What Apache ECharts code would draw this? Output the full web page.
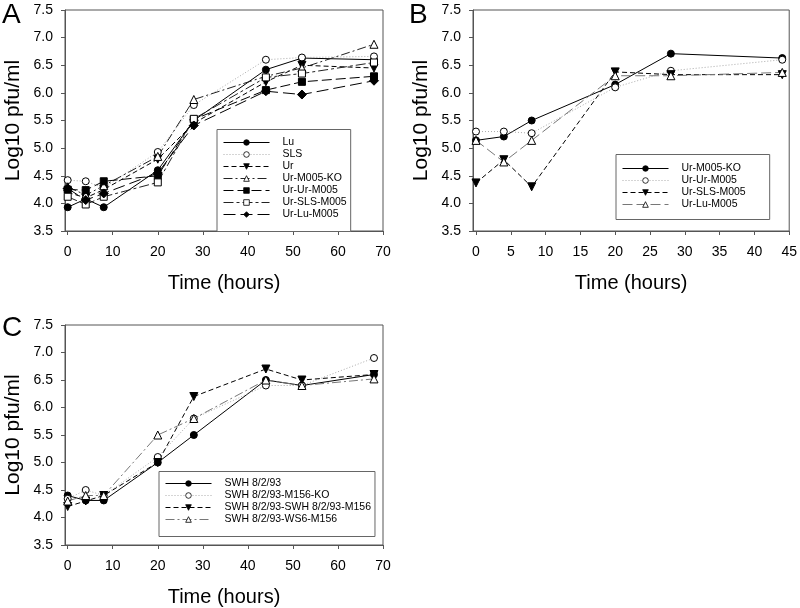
<!DOCTYPE html>
<html><head><meta charset="utf-8">
<script src="https://cdn.jsdelivr.net/npm/echarts@6/dist/echarts.min.js"></script>
<style>html,body{margin:0;padding:0;background:#fff}#c{width:800px;height:608px}</style>
</head><body><div id="c"></div>
<script>
// ---- data ----
const hoursAC = [0, 4, 8, 20, 28, 44, 52, 68];
const hoursB = [0, 4, 8, 20, 28, 44];
const xTicksAC = [0, 10, 20, 30, 40, 50, 60, 70];
const xTicksB = [0, 5, 10, 15, 20, 25, 30, 35, 40, 45];

// Panel A
const aLu        = [3.93, 4.08, 3.93, 4.60, 5.50, 6.42, 6.63, 6.60];
const aSLS       = [4.42, 4.40, 4.28, 4.93, 5.78, 6.60, 6.64, 6.66];
const aUr        = [4.20, 4.10, 4.25, 4.80, 5.45, 6.20, 6.50, 6.45];
const aUrKO      = [4.30, 4.15, 4.32, 4.85, 5.88, 6.30, 6.45, 6.88];
const aUrUr      = [4.25, 4.24, 4.40, 4.50, 5.52, 6.05, 6.20, 6.30];
const aUrSLS     = [4.12, 3.98, 4.12, 4.38, 5.53, 6.28, 6.35, 6.55];
const aUrLu      = [4.27, 4.06, 4.18, 4.55, 5.41, 6.03, 5.97, 6.22];

// Panel B
const bUrKO      = [5.14, 5.21, 5.50, 6.15, 6.71, 6.63];
const bUrUr      = [5.30, 5.30, 5.27, 6.10, 6.40, 6.60];
const bUrSLS     = [4.37, 4.79, 4.30, 6.38, 6.33, 6.33];
const bUrLu      = [5.14, 4.75, 5.14, 6.31, 6.31, 6.37];

// Panel C
const cSWH       = [4.40, 4.31, 4.31, 5.00, 5.50, 6.50, 6.40, 6.60];
const cSWHKO     = [4.34, 4.50, 4.40, 5.10, 5.80, 6.40, 6.40, 6.90];
const cSWHSWH    = [4.20, 4.30, 4.40, 5.00, 6.20, 6.70, 6.50, 6.60];
const cSWHWS6    = [4.30, 4.40, 4.40, 5.50, 5.80, 6.50, 6.40, 6.52];

// ---- styles ----
const FONT = '"Liberation Sans", Arial, sans-serif';
const AX = '#555';
function zip(xs, ys){ return xs.map((x,i)=>[x, ys[i]]); }
const ST = {
  solidFilledCircle: {symbol:'circle', size:7, fill:'#000', line:'#000', type:'solid'},
  dottedOpenCircle:  {symbol:'circle', size:7, fill:'#fff', line:'#aaa', type:[1,2]},
  dashFilledTri:     {symbol:'triangle', rotate:180, size:8, fill:'#000', line:'#000', type:[5,3]},
  dashDotOpenTri:    {symbol:'triangle', size:8, fill:'#fff', line:'#222', type:[9,3,2,3]},
  longFilledSquare:  {symbol:'rect', size:7, fill:'#000', line:'#000', type:[10,4]},
  longOpenSquare:    {symbol:'rect', size:7, fill:'#fff', line:'#222', type:[10,3,3,3]},
  longFilledDiamond: {symbol:'diamond', size:9, fill:'#000', line:'#000', type:[12,5]},
  longOpenTriGray:   {symbol:'triangle', size:8, fill:'#fff', line:'#777', type:[10,4]},
  dashDotOpenTriGray:{symbol:'triangle', size:8, fill:'#fff', line:'#777', type:[9,3,2,3]}
};
function mk(name, idx, xs, ys, s){
  return {
    name: name, type:'line', xAxisIndex: idx, yAxisIndex: idx,
    data: zip(xs, ys), symbol: s.symbol, symbolSize: s.size, symbolRotate: s.rotate || 0,
    showSymbol: true, animation:false, z: 3,
    lineStyle: {color: s.line, width: 1, type: s.type},
    itemStyle: {color: s.fill, borderColor: '#000', borderWidth: 1},
    emphasis: {disabled: true}
  };
}
const series = [
  mk('A:Lu', 0, hoursAC, aLu, ST.solidFilledCircle),
  mk('A:SLS', 0, hoursAC, aSLS, ST.dottedOpenCircle),
  mk('A:Ur', 0, hoursAC, aUr, ST.dashFilledTri),
  mk('A:Ur-M005-KO', 0, hoursAC, aUrKO, ST.dashDotOpenTri),
  mk('A:Ur-Ur-M005', 0, hoursAC, aUrUr, ST.longFilledSquare),
  mk('A:Ur-SLS-M005', 0, hoursAC, aUrSLS, ST.longOpenSquare),
  mk('A:Ur-Lu-M005', 0, hoursAC, aUrLu, ST.longFilledDiamond),
  mk('B:Ur-M005-KO', 1, hoursB, bUrKO, ST.solidFilledCircle),
  mk('B:Ur-Ur-M005', 1, hoursB, bUrUr, ST.dottedOpenCircle),
  mk('B:Ur-SLS-M005', 1, hoursB, bUrSLS, ST.dashFilledTri),
  mk('B:Ur-Lu-M005', 1, hoursB, bUrLu, ST.longOpenTriGray),
  mk('C:SWH 8/2/93', 2, hoursAC, cSWH, ST.solidFilledCircle),
  mk('C:SWH 8/2/93-M156-KO', 2, hoursAC, cSWHKO, ST.dottedOpenCircle),
  mk('C:SWH 8/2/93-SWH 8/2/93-M156', 2, hoursAC, cSWHSWH, ST.dashFilledTri),
  mk('C:SWH 8/2/93-WS6-M156', 2, hoursAC, cSWHWS6, ST.dashDotOpenTriGray)
];

const grids = [
  {left: 65, top: 10, width: 318, height: 221},
  {left: 473, top: 10, width: 319, height: 221},
  {left: 65, top: 325, width: 318, height: 222}
];
function xAx(idx, min, max, ticks){
  return {
    type:'value', gridIndex: idx, min: min, max: max,
    name: 'Time (hours)', nameLocation:'middle', nameGap: 42,
    nameTextStyle: {fontFamily: FONT, fontSize: 20, color:'#000'},
    axisLine: {show:true, onZero:false, lineStyle:{color: AX, width:1}},
    axisTick: {show:true, inside:false, length:4, customValues: ticks, lineStyle:{color: AX}},
    axisLabel: {customValues: ticks, margin: 14, fontFamily: FONT, fontSize: 14, color:'#000'},
    splitLine: {show:false}
  };
}
function yAx(idx){
  return {
    type:'value', gridIndex: idx, min: 3.5, max: 7.5, interval: 0.5,
    name: 'Log10 pfu/ml', nameLocation:'middle', nameGap: 41, nameRotate: 90,
    nameTextStyle: {fontFamily: FONT, fontSize: 21, color:'#000'},
    axisLine: {show:true, onZero:false, lineStyle:{color: AX, width:1}},
    axisTick: {show:true, inside:false, length:4, lineStyle:{color: AX}},
    axisLabel: {margin: 12, fontFamily: FONT, fontSize: 14, color:'#000', formatter: v => v.toFixed(1)},
    splitLine: {show:false}
  };
}
function legend(names, left, top, pad){
  return {
    data: names, orient:'vertical', left: left, top: top, padding: pad,
    itemWidth: 46, itemHeight: 7, itemGap: 0,
    backgroundColor:'#fff', borderColor:'#666', borderWidth:1,
    lineStyle: {width: 1},
    itemStyle: {borderWidth: 0.8},
    formatter: n => n.replace(/^[ABC]:/, ''),
    textStyle: {fontFamily: FONT, fontSize: 10.5, color:'#000', lineHeight: 12, padding:[0,0,0,8]},
    selectedMode: false, z: 10
  };
}
const option = {
  animation: false,
  backgroundColor: '#fff',
  grid: grids.map(g => Object.assign({show:true, borderColor: AX, borderWidth:1, backgroundColor:'transparent'}, g)),
  xAxis: [xAx(0, -0.6, 70, xTicksAC), xAx(1, -0.43, 45, xTicksB), xAx(2, -0.6, 70, xTicksAC)],
  yAxis: [yAx(0), yAx(1), yAx(2)],
  legend: [
    legend(series.slice(0,7).map(s=>s.name), 217, 129.5, [7,4,11,6]),
    legend(series.slice(7,11).map(s=>s.name), 616, 154.5, [8,24,9,6]),
    legend(series.slice(11).map(s=>s.name), 159, 471.5, [6,4,11,6])
  ],
  graphic: [
    {type:'text', left: 2, top: 1, style:{text:'A', font:'28px ' + FONT, fill:'#000'}},
    {type:'text', left: 409, top: 1, style:{text:'B', font:'28px ' + FONT, fill:'#000'}},
    {type:'text', left: 2, top: 314, style:{text:'C', font:'28px ' + FONT, fill:'#000'}}
  ],
  series: series
};
echarts.init(document.getElementById('c'), null, {renderer:'canvas'}).setOption(option);
</script>
</body></html>
